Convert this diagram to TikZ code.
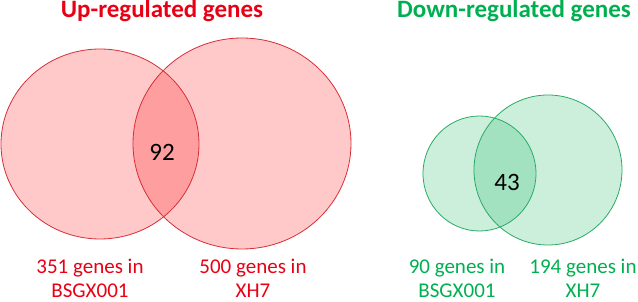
\documentclass[tikz,border=0pt]{standalone}
\usepackage{fontspec}
\setmainfont{Carlito}
\definecolor{upred}{RGB}{232,0,20}
\definecolor{upfill}{RGB}{255,0,0}
\definecolor{upline}{RGB}{215,45,55}
\definecolor{dngreen}{RGB}{0,176,80}
\definecolor{dnline}{RGB}{40,170,100}
\begin{document}
\begin{tikzpicture}[x=1pt,y=1pt,
  titletext/.style={font=\fontsize{25}{30}\selectfont\bfseries, anchor=base, inner sep=0pt},
  lbl/.style={font=\fontsize{21}{24}\selectfont, align=center, anchor=base, inner sep=0pt},
  count/.style={font=\fontsize{25}{30}\selectfont, text=black, inner sep=0pt},
  upset/.style={fill=upfill, fill opacity=0.21},
  upedge/.style={draw=upline, line width=0.8pt},
  dnset/.style={fill=dngreen, fill opacity=0.2},
  dnedge/.style={draw=dnline, line width=0.8pt}]
\useasboundingbox (0,0) rectangle (638,302);
% up-regulated
\fill[upset] (100,158) ellipse [x radius=99, y radius=95];
\fill[upset] (242,158.5) ellipse [x radius=109, y radius=105.5];
\draw[upedge] (100,158) ellipse [x radius=99, y radius=95];
\draw[upedge] (242,158.5) ellipse [x radius=109, y radius=105.5];
% down-regulated
\fill[dnset] (479.5,128.5) ellipse [x radius=56.5, y radius=57.5];
\fill[dnset] (548,132) ellipse [x radius=74, y radius=75];
\draw[dnedge] (479.5,128.5) ellipse [x radius=56.5, y radius=57.5];
\draw[dnedge] (548,132) ellipse [x radius=74, y radius=75];
% titles
\node[titletext, text=upred] (uptitle) at (162,284) {Up-regulated genes};
\node[titletext, text=dngreen] (dntitle) at (514,284) {Down-regulated genes};
% counts
\node[count] (upboth) at (162,150) {92};
\node[count] (dnboth) at (507,120) {43};
% labels
\node[lbl, text=upred] (upa) at (90,4) {351 genes in\\BSGX001};
\node[lbl, text=upred] (upb) at (253,4) {500 genes in\\XH7};
\node[lbl, text=dngreen] (dna) at (457,4) {90 genes in\\BSGX001};
\node[lbl, text=dngreen] (dnb) at (583,4) {194 genes in\\XH7};
\end{tikzpicture}
\end{document}
